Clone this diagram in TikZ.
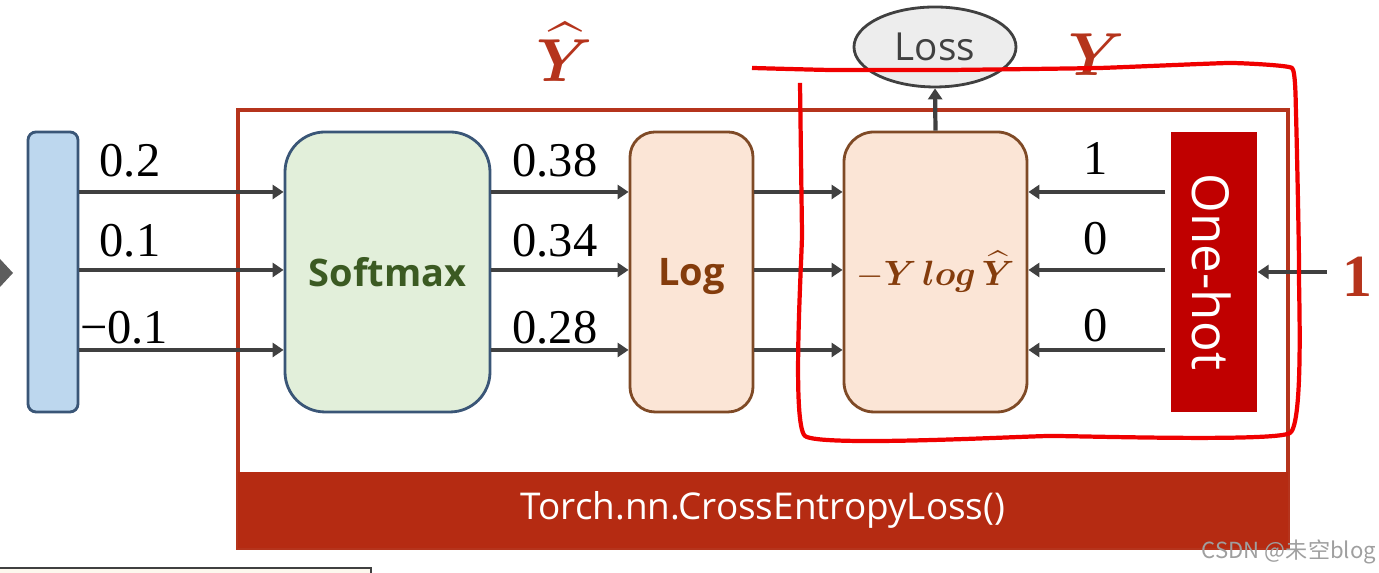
\documentclass[tikz,border=0pt]{standalone}
\usepackage{amsmath,bm}
\usepackage{fontspec}
\setmainfont{Liberation Serif}
\setsansfont{Open Sans}
\newfontfamily\cjkfont{Noto Sans CJK SC}
\usepackage{tikz}
\usetikzlibrary{arrows.meta,shapes.geometric}

\definecolor{arrowgray}{HTML}{404040}
\definecolor{barfill}{HTML}{BDD7EE}
\definecolor{barline}{HTML}{3A5677}
\definecolor{softfill}{HTML}{E2EFDA}
\definecolor{softtext}{HTML}{3B5A22}
\definecolor{logfill}{HTML}{FBE5D6}
\definecolor{logline}{HTML}{7F4A26}
\definecolor{logtext}{HTML}{843C0C}
\definecolor{framered}{HTML}{B5341C}
\definecolor{bandred}{HTML}{B52B12}
\definecolor{onehot}{HTML}{C00000}
\definecolor{handred}{HTML}{F00000}
\definecolor{lossfill}{HTML}{EDEDED}
\definecolor{cream}{HTML}{FDF8EE}

\begin{document}
\begin{tikzpicture}[
  blk/.style={draw, line width=0.8pt, minimum height=2.8cm, inner sep=0pt},
  flow/.style={draw=arrowgray, line width=1.2pt, -{Triangle[length=1.1mm,width=1.4mm]}},
  num/.style={anchor=base, font=\fontsize{13.8}{15}\selectfont},
  lab/.style={text depth=0pt, font=\sffamily\bfseries\fontsize{10.8}{12}\selectfont}
]
  \useasboundingbox (0,0) rectangle (13.79,5.73);
  % loose bits at the edges
  \fill[arrowgray!85] (0,3.14) -- (0.13,3.00) -- (0,2.86) -- cycle;
  \fill[cream] (0,0) rectangle (3.71,0.05);
  \draw[arrowgray, line width=0.8pt] (0,0.05) -- (3.71,0.05) -- (3.71,0);

  % the loss module
  \node[draw=framered, line width=1.1pt, minimum width=10.5cm, minimum height=4.38cm] (frame) at (7.63,2.44) {};
  \node[fill=bandred, minimum width=10.5cm, minimum height=0.76cm, text=white,
        font=\sffamily\fontsize{10.5}{12}\selectfont] (band) at (7.63,0.63) {Torch.nn.CrossEntropyLoss()};

  \node[blk, draw=barline, fill=barfill, rounded corners=0.8mm, minimum width=0.5cm] (bar) at (0.53,3.01) {};
  \node[blk, lab, draw=barline, fill=softfill, text=softtext, rounded corners=4mm, minimum width=2.05cm] (soft) at (3.875,3.01) {Softmax};
  \node[blk, lab, draw=logline, fill=logfill, text=logtext, rounded corners=2.5mm, minimum width=1.23cm] (log) at (6.915,3.01) {Log};
  \node[blk, draw=logline, fill=logfill, text=logtext, rounded corners=3mm, minimum width=1.83cm,
        font=\fontsize{10}{12}\selectfont] (ce) at (9.355,3.01) {$-\bm{Y}\,\bm{log}\,\widehat{\bm{Y}}$};
  \node[fill=onehot, minimum width=0.86cm, minimum height=2.8cm, inner sep=0pt] (hot) at (12.14,3.01) {};
  \node[rotate=-90, text=white, font=\sffamily\fontsize{14.5}{16}\selectfont] (hottext) at (12.12,3.01) {One-hot};

  \node[ellipse, draw=arrowgray, line width=0.8pt, fill=lossfill, minimum width=1.62cm, minimum height=0.8cm,
        text=arrowgray, font=\sffamily\fontsize{11}{12}\selectfont] (loss) at (9.35,5.26) {Loss};
  \draw[flow] (ce.north) -- (loss.south);

  \node[text=framered, font=\fontsize{18}{20}\selectfont] (yhat) at (5.65,5.21) {$\widehat{\bm{Y}}$};
  \node[text=framered, font=\fontsize{18}{20}\selectfont] (ytrue) at (10.97,5.18) {$\bm{Y}$};
  \node[text=framered, font=\bfseries\fontsize{17}{18}\selectfont] (one) at (13.57,2.96) {1};
  \draw[flow] ([xshift=-0.3mm]one.west |- hot.east) -- (hot.east);

  % three rows of values
  \foreach \y/\d/\lx/\a/\b/\c [count=\i] in {3.81/0.15/1.30/0.2/0.38/1, 3.03/0.13/1.30/0.1/0.34/0, 2.23/0.06/1.24/−0.1/0.28/0}{
    \draw[flow] (bar.east |- 0,\y) -- (soft.west |- 0,\y);
    \draw[flow] (soft.east |- 0,\y) -- (log.west |- 0,\y);
    \draw[flow] (log.east |- 0,\y) -- (ce.west |- 0,\y);
    \draw[flow] ([xshift=-0.5mm]hot.west |- 0,\y) -- (ce.east |- 0,\y);
    \node[num] (in\i) at (\lx,\y+\d) {\a};
    \node[num] (p\i) at (5.55,\y+\d) {\b};
    \node[num] (t\i) at (10.96,\y+\d+0.02) {\c};
  }

  % hand drawn mark
  \draw[handred, line width=1.2pt, line join=round] plot[smooth, tension=0.2] coordinates {
    (8.00,4.90) (8.02,3.40) (8.05,1.37) (10.5,1.37) (12.90,1.40)
    (12.99,3.00) (12.96,4.60) (12.92,5.05) (12.30,5.10) (11.00,5.05) (9.50,5.03) (8.30,5.03) (7.52,5.05)};

  \node[text=gray!75, font=\cjkfont\fontsize{6.3}{8}\selectfont] (mark) at (12.89,0.21) {CSDN @未空blog};
\end{tikzpicture}
\end{document}
